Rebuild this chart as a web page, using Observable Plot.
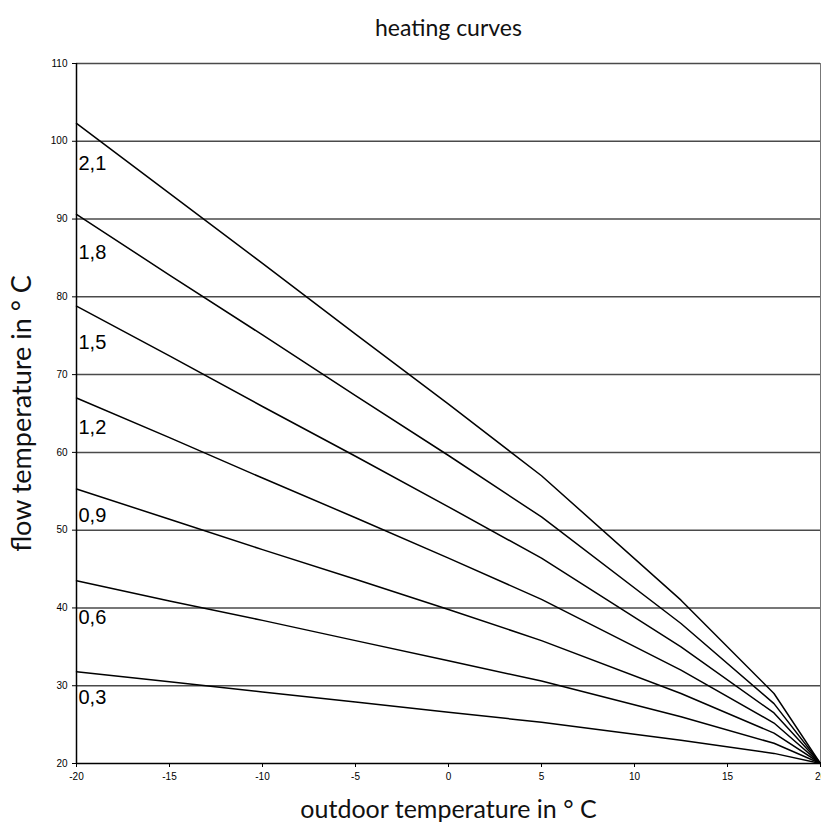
<!DOCTYPE html>
<html>
<head>
<meta charset="utf-8">
<script src="https://cdn.jsdelivr.net/npm/d3@7"></script>
<script src="https://cdn.jsdelivr.net/npm/@observablehq/plot@0.6"></script>
<style>
  html, body { margin: 0; padding: 0; background: white; overflow: hidden; }
</style>
</head>
<body>
<div id="chart"></div>
<script>
// Outdoor temperature sample points (°C)
const outdoor = [-20, -15, -10, -5, 0, 5, 12.5, 17.5, 20];
// Curve names (steepness)
const curves = ["2,1", "1,8", "1,5", "1,2", "0,9", "0,6", "0,3"];
// Flow temperatures (°C)
const flow21 = [102.3, 93.3, 84.3, 75.2, 66.2, 57.0, 41.0, 29.0, 20];
const flow18 = [90.6, 82.8, 75.1, 67.3, 59.6, 51.7, 38.0, 27.7, 20];
const flow15 = [78.8, 72.4, 65.9, 59.5, 53.0, 46.4, 35.0, 26.5, 20];
const flow12 = [67.0, 61.9, 56.7, 51.6, 46.4, 41.1, 32.0, 25.2, 20];
const flow09 = [55.3, 51.4, 47.5, 43.7, 39.8, 35.8, 29.0, 23.9, 20];
const flow06 = [43.5, 40.9, 38.4, 35.8, 33.2, 30.6, 26.0, 22.6, 20];
const flow03 = [31.8, 30.5, 29.2, 27.9, 26.6, 25.3, 23.0, 21.3, 20];
// Label anchor values (flow temperature where each curve's label sits)
const labelFlow = [97.1, 85.7, 74.1, 63.2, 51.9, 38.8, 28.5];
// Axis ticks
const xTicks = [-20, -15, -10, -5, 0, 5, 10, 15, 20];
const yTicks = [20, 30, 40, 50, 60, 70, 80, 90, 100, 110];

const seriesValues = [flow21, flow18, flow15, flow12, flow09, flow06, flow03];
const rows = [];
curves.forEach((c, i) => {
  outdoor.forEach((t, j) => rows.push({curve: c, outdoor: t, flow: seriesValues[i][j]}));
});
const labels = curves.map((c, i) => ({curve: c, flow: labelFlow[i]}));

const chart = Plot.plot({
  width: 821,
  height: 825,
  marginLeft: 76,
  marginRight: 1,
  marginTop: 63,
  marginBottom: 62,
  style: {fontFamily: "'Liberation Sans', Arial, sans-serif", fontSize: "10px", color: "black", background: "white"},
  x: {domain: [-20, 20], label: null},
  y: {domain: [20, 110], label: null},
  marks: [
    Plot.ruleY(yTicks.filter(d => d > 20), {stroke: "#4a4a4a", strokeWidth: 1.5}),
    Plot.ruleX([20], {stroke: "#777", strokeWidth: 1}),
    Plot.axisX({ticks: xTicks, tickSize: 4, tickPadding: 5, tickFormat: d => String(d), label: null, fontSize: 10}),
    Plot.axisY({ticks: yTicks, tickSize: 4, tickPadding: 5, tickFormat: d => String(d), label: null, fontSize: 10}),
    Plot.ruleX([-20], {stroke: "black", strokeWidth: 1.5}),
    Plot.ruleY([20], {stroke: "black", strokeWidth: 1.5}),
    Plot.line(rows, {x: "outdoor", y: "flow", z: "curve", stroke: "black", strokeWidth: 1.5}),
    Plot.text(labels, {x: -20, y: "flow", text: "curve", textAnchor: "start", dx: 2, fontSize: 20, fontFamily: "'Liberation Sans', Arial, sans-serif", fill: "black"}),
    Plot.text(["heating curves"], {frameAnchor: "top", dy: -35, lineAnchor: "middle", textAnchor: "middle", fontSize: 23, fontFamily: "Lato", fill: "#111"}),
    Plot.text(["flow temperature in ° C"], {frameAnchor: "left", dx: -54, rotate: -90, textAnchor: "middle", lineAnchor: "middle", fontSize: 27, fontFamily: "Lato", fill: "#111"}),
    Plot.text(["outdoor temperature in ° C"], {frameAnchor: "bottom", dy: 46, lineAnchor: "middle", textAnchor: "middle", fontSize: 25, fontFamily: "Lato", fill: "#111"})
  ]
});
document.getElementById("chart").appendChild(chart);
</script>
</body>
</html>
